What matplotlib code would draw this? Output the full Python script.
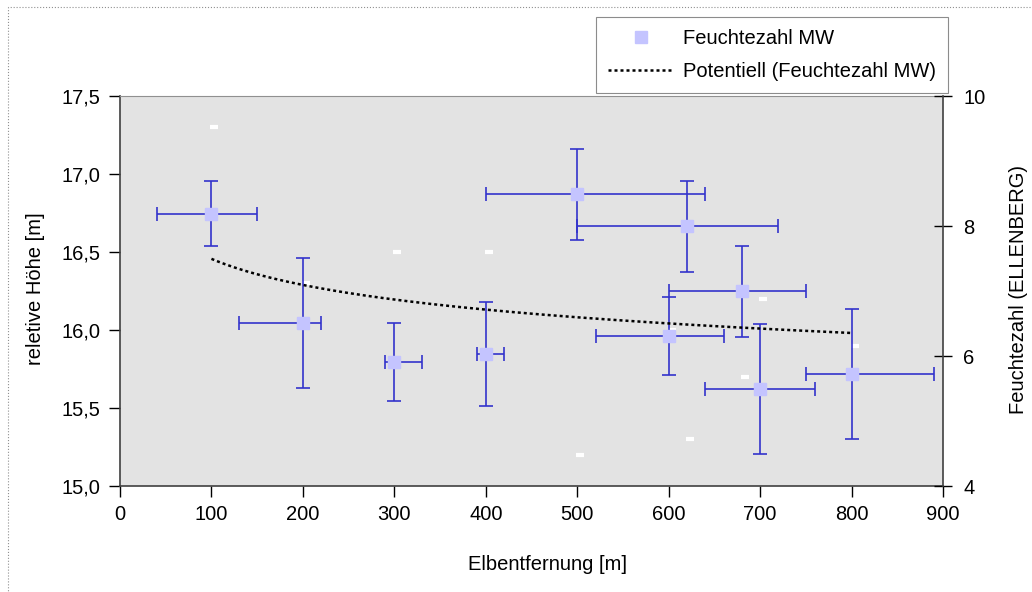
import matplotlib
matplotlib.use("Agg")
import matplotlib.pyplot as plt
import numpy as np
from matplotlib.lines import Line2D
from matplotlib.patches import Rectangle
from matplotlib.transforms import ScaledTranslation
from matplotlib.ticker import FuncFormatter, MultipleLocator

plt.rcParams['font.family'] = ['Liberation Sans', 'DejaVu Sans']

# Elbentfernung [m]
distance = [100, 200, 300, 400, 500, 600, 620, 680, 700, 800]
# Feuchtezahl MW (rechte Achse) mit Fehlerbalken
feuchte = [8.19, 6.51, 5.91, 6.03, 8.49, 6.31, 8.0, 7.0, 5.49, 5.72]
feuchte_err = [0.5, 1.0, 0.6, 0.8, 0.7, 0.6, 0.7, 0.7, 1.0, 1.0]
dist_err_minus = [60, 70, 10, 10, 100, 80, 120, 80, 60, 50]
dist_err_plus = [50, 20, 30, 20, 140, 60, 100, 70, 60, 90]
# relative Hoehe [m] (linke Achse)
hoehe = [17.3, 16.3, 16.5, 16.5, 15.2, 16.0, 15.3, 15.7, 16.2, 15.9]

fs = 14.5
fig = plt.figure(figsize=(10.32, 5.92), dpi=100)
ax = fig.add_axes([120 / 1032, 1 - 486 / 592, 823 / 1032, 390 / 592])
ax.set_facecolor('#E3E3E3')
ax2 = ax.twinx()

# weisse Striche: relative Hoehe
shift = ScaledTranslation(3 / 100, 0, fig.dpi_scale_trans)
ax.plot(distance, hoehe, linestyle='none', marker='_', markersize=6,
        markeredgewidth=3, color='white', transform=ax.transData + shift,
        zorder=2)

# Feuchtezahl mit Fehlerbalken
ax2.errorbar(distance, feuchte, yerr=feuchte_err,
             xerr=[dist_err_minus, dist_err_plus], fmt='none',
             ecolor='#3333CC', elinewidth=1.2, capsize=5, capthick=1.2,
             zorder=3)
ax2.plot(distance, feuchte, linestyle='none', marker='s', markersize=8.6,
         color='#C4C4FF', zorder=4)

# Potenz-Trendlinie
lx = np.log(distance)
ly = np.log(feuchte)
b, lna = np.polyfit(lx, ly, 1)
xt = np.linspace(min(distance), max(distance), 200)
yt = np.exp(lna) * xt ** b
ax2.plot(xt, yt, color='black', linestyle=(0, (1.2, 1.2)), linewidth=1.8,
         zorder=5)

ax.set_xlim(0, 900)
ax.set_ylim(15.0, 17.5)
ax2.set_ylim(4, 10)
ax.xaxis.set_major_locator(MultipleLocator(100))
ax.yaxis.set_major_locator(MultipleLocator(0.5))
ax2.yaxis.set_major_locator(MultipleLocator(2))
ax.yaxis.set_major_formatter(FuncFormatter(lambda v, p: ("%.1f" % v).replace('.', ',')))

ax.tick_params(axis='both', labelsize=fs, length=8, width=1, direction='out',
               pad=6, colors='black')
ax2.tick_params(axis='y', labelsize=fs, length=13, width=1, direction='inout',
                pad=8)

for s in ['left', 'bottom']:
    ax.spines[s].set_color('#404040')
    ax.spines[s].set_linewidth(1.2)
ax.spines['top'].set_color('#909090')
ax2.spines['top'].set_visible(False)
ax2.spines['left'].set_visible(False)
ax2.spines['bottom'].set_visible(False)
ax2.spines['right'].set_color('#404040')
ax2.spines['right'].set_linewidth(1.2)
ax.spines['right'].set_visible(False)

fig.text(548 / 1032, 1 - 565 / 592, 'Elbentfernung [m]', fontsize=fs,
         ha='center', va='center')
fig.text(36 / 1032, 1 - 289 / 592, 'reletive Höhe [m]', fontsize=fs,
         ha='center', va='center', rotation=90)
fig.text(1018 / 1032, 1 - 290 / 592, 'Feuchtezahl (ELLENBERG)', fontsize=fs,
         ha='center', va='center', rotation=90)

handles = [Line2D([], [], linestyle='none', marker='s', markersize=8.6,
                  color='#C4C4FF'),
           Line2D([], [], color='black', linestyle=(0, (1.2, 1.2)),
                  linewidth=1.8)]
leg = fig.legend(handles, ['Feuchtezahl MW', 'Potentiell (Feuchtezahl MW)'],
                 loc='upper right', bbox_to_anchor=(948 / 1032, 1 - 17 / 592),
                 fontsize=fs, frameon=True, fancybox=False, handlelength=3.2,
                 handletextpad=0.5, borderpad=0.6, borderaxespad=0,
                 labelspacing=0.7)
leg.get_frame().set_edgecolor('#707070')
leg.get_frame().set_linewidth(0.8)

fig.add_artist(Rectangle((8 / 1032, -0.1), 1.2, 1 - 7 / 592 + 0.1,
                         transform=fig.transFigure, fill=False,
                         edgecolor='#909090', linewidth=0.8, linestyle=':'))

fig.savefig('out.png', dpi=100)
